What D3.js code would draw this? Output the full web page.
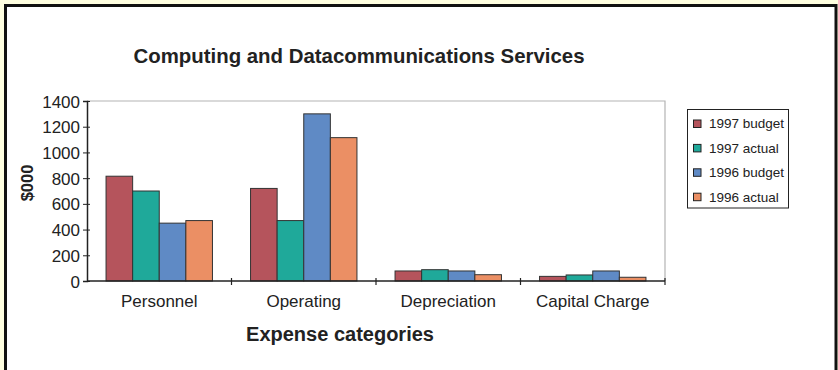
<!DOCTYPE html>
<html>
<head>
<meta charset="utf-8">
<script src="https://cdn.jsdelivr.net/npm/d3@7"></script>
<style>
  html, body { margin: 0; padding: 0; background: #FFFFE0; }
  svg { display: block; }
  text { font-family: Arial, "Liberation Sans", sans-serif; fill: #222; }
</style>
</head>
<body>
<svg id="chart" width="838" height="370"></svg>
<script>
// Expense categories and the four budget/actual series ($000)
const categories = ["Personnel", "Operating", "Depreciation", "Capital Charge"];
const seriesNames = ["1997 budget", "1997 actual", "1996 budget", "1996 actual"];
const budget1997 = [815, 720, 78, 36];
const actual1997 = [700, 470, 88, 47];
const budget1996 = [450, 1300, 78, 78];
const actual1996 = [470, 1115, 49, 29];
const yTicks = [0, 200, 400, 600, 800, 1000, 1200, 1400];
const colors = ["#B5545C", "#1FA99A", "#5F8AC5", "#EB8F64"];

const seriesValues = [budget1997, actual1997, budget1996, actual1996];
const rows = categories.map((c, i) => ({
  category: c,
  values: seriesNames.map((s, k) => ({ series: s, value: seriesValues[k][i] }))
}));

const svg = d3.select("#chart");

// Outer frame
svg.append("rect")
  .attr("x", 5.5).attr("y", 5.5)
  .attr("width", 830.5).attr("height", 400)
  .attr("fill", "#fff").attr("stroke", "#111").attr("stroke-width", 3);

const plot = { left: 87, right: 665, top: 101, bottom: 281 };

const x0 = d3.scaleBand().domain(categories).range([plot.left, plot.right]).padding(0);
const x1 = d3.scaleBand().domain(seriesNames).range([0, x0.bandwidth()])
  .paddingInner(0).paddingOuter(0.716);
const y = d3.scaleLinear().domain([0, 1400]).range([plot.bottom, plot.top]);

// Plot area border (top and right)
svg.append("path")
  .attr("d", `M${plot.left},${plot.top}H${plot.right}V${plot.bottom}`)
  .attr("fill", "none").attr("stroke", "#b4b4b4").attr("stroke-width", 1.2);

// Bars
const groups = svg.append("g").selectAll("g").data(rows).join("g")
  .attr("transform", d => `translate(${x0(d.category)},0)`);
groups.selectAll("rect").data(d => d.values).join("rect")
  .attr("x", d => x1(d.series))
  .attr("y", d => y(d.value))
  .attr("width", x1.bandwidth())
  .attr("height", d => y(0) - y(d.value))
  .attr("fill", (d, i) => colors[i])
  .attr("stroke", "#333").attr("stroke-width", 1);

// Y axis
const yAxis = svg.append("g")
  .attr("transform", `translate(${plot.left},0)`)
  .call(d3.axisLeft(y).tickValues(yTicks).tickSize(4).tickPadding(3).tickFormat(d3.format("d")));
yAxis.select(".domain").attr("stroke", "#222").attr("stroke-width", 1.5);
yAxis.selectAll(".tick line").attr("stroke", "#222").attr("x2", -4).attr("x1", 3);
yAxis.selectAll(".tick text").style("font-size", "17px").attr("fill", "#222").attr("dy", "0.36em");

// X axis with ticks at category boundaries
const xAxis = svg.append("g").attr("transform", `translate(0,${plot.bottom})`);
xAxis.append("line")
  .attr("x1", plot.left).attr("x2", plot.right)
  .attr("stroke", "#222").attr("stroke-width", 1.5);
const boundaries = categories.map(c => x0(c) + x0.bandwidth());
xAxis.selectAll(".bt").data(boundaries).join("line")
  .attr("x1", d => d).attr("x2", d => d).attr("y1", -3).attr("y2", 4)
  .attr("stroke", "#222").attr("stroke-width", 1.2);
xAxis.selectAll(".cat").data(categories).join("text")
  .attr("x", d => x0(d) + x0.bandwidth() / 2)
  .attr("y", 26)
  .attr("text-anchor", "middle")
  .style("font-size", "17px")
  .text(d => d);

// Titles
svg.append("text")
  .attr("x", 359).attr("y", 63)
  .attr("text-anchor", "middle")
  .style("font-size", "20.4px").style("font-weight", "bold")
  .text("Computing and Datacommunications Services");

svg.append("text")
  .attr("x", 340).attr("y", 341)
  .attr("text-anchor", "middle")
  .style("font-size", "20px").style("font-weight", "bold")
  .text("Expense categories");

svg.append("text")
  .attr("transform", "translate(33,183) rotate(-90)")
  .attr("text-anchor", "middle")
  .style("font-size", "16.5px").style("font-weight", "bold")
  .text("$000");

// Legend
const legend = svg.append("g");
legend.append("rect")
  .attr("x", 687.5).attr("y", 109.5).attr("width", 101).attr("height", 98.5)
  .attr("fill", "#fff").attr("stroke", "#222").attr("stroke-width", 1);
const items = legend.selectAll(".item").data(seriesNames).join("g")
  .attr("transform", (d, i) => `translate(693,${123.5 + i * 24.4})`);
items.append("rect")
  .attr("x", 0.5).attr("y", -3.5).attr("width", 7.5).attr("height", 7.5)
  .attr("fill", (d, i) => colors[i]).attr("stroke", "#222").attr("stroke-width", 1);
items.append("text")
  .attr("x", 16).attr("y", 0).attr("dy", "0.36em")
  .style("font-size", "13.5px")
  .text(d => d);
</script>
</body>
</html>
